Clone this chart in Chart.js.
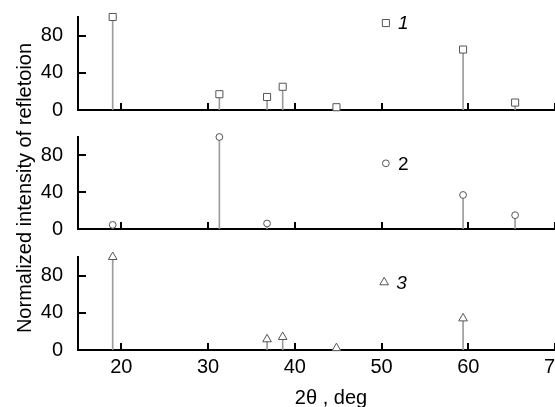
<!DOCTYPE html>
<html>
<head>
<meta charset="utf-8">
<script src="https://cdn.jsdelivr.net/npm/chart.js@4.4.1/dist/chart.umd.min.js"></script>
<style>
  html, body { margin: 0; padding: 0; background: #fff; }
  #wrap { position: relative; width: 555px; height: 407px; overflow: hidden; }
  #wrap canvas { position: absolute; left: 0; top: 0; }
</style>
</head>
<body>
<div id="wrap">
  <canvas id="p1" width="555" height="407"></canvas>
  <canvas id="p2" width="555" height="407"></canvas>
  <canvas id="p3" width="555" height="407"></canvas>
</div>
<script>
// оси
const xTicks = [20, 30, 40, 50, 60, 70];
const yTicks = [0, 40, 80];

// пики (2θ, интенсивность)
const peaks1X = [19.0, 31.3, 36.8, 38.6, 44.8, 59.4, 65.4];
const peaks1Y = [100, 17, 14, 25, 3, 65, 8];
const peaks2X = [19.0, 31.3, 36.8, 59.4, 65.4];
const peaks2Y = [4.5, 100, 6, 37, 15];
const peaks3X = [19.0, 36.8, 38.6, 44.8, 59.4];
const peaks3Y = [100, 11.5, 14, 2, 34];

// подписи кривых
const legendLabels = ['1', '2', '3'];
const legendX = [50.5, 50.5, 50.3];
const legendY = [93.5, 71.4, 72.8];

const yTitle = 'Normalized intensity of refletoion';
const xTitle = '2θ , deg';

const FONT = "'Liberation Sans', Arial, sans-serif";

// засечки внутрь и подписи
const inwardTicks = {
    id: 'inwardTicks',
    afterDraw(chart, args, o) {
        const ctx = chart.ctx;
        const area = chart.chartArea;
        const x = chart.scales.x, y = chart.scales.y;
        ctx.save();
        ctx.strokeStyle = '#000';
        ctx.lineWidth = 2;
        xTicks.forEach(v => {
            const px = Math.round(x.getPixelForValue(v));
            ctx.beginPath();
            ctx.moveTo(px, area.bottom + 1);
            ctx.lineTo(px, area.bottom - 7);
            ctx.stroke();
        });
        yTicks.filter(v => v > 0).forEach(v => {
            const py = Math.round(y.getPixelForValue(v));
            ctx.beginPath();
            ctx.moveTo(area.left - 1, py);
            ctx.lineTo(area.left + 8, py);
            ctx.stroke();
        });
        // номер кривой
        ctx.fillStyle = '#000';
        ctx.font = (o.italic ? 'italic ' : '') + '19px ' + FONT;
        ctx.textBaseline = 'middle';
        ctx.textAlign = 'left';
        ctx.fillText(legendLabels[o.idx], x.getPixelForValue(legendX[o.idx]) + 12, y.getPixelForValue(legendY[o.idx]) + 1);
        if (o.titles) {
            ctx.font = '20px ' + FONT;
            ctx.textAlign = 'center';
            ctx.fillText(xTitle, 331, 398);
            ctx.translate(25, 188);
            ctx.rotate(-Math.PI / 2);
            ctx.fillText(yTitle, 0, 0);
        }
        ctx.restore();
    }
};

function makePanel(id, idx, xs, ys, style, top, bottom, showX) {
    const xh = showX ? 407 - bottom : 0;
    const markers = xs.map((v, i) => ({x: v, y: ys[i]}));
    const markerStyle = {
        pointStyle: style,
        pointRadius: style === 'circle' ? 3.4 : 5,
        pointBackgroundColor: '#fff',
        pointBorderColor: '#555',
        pointBorderWidth: 1,
        clip: false
    };
    new Chart(document.getElementById(id), {
        type: 'bar',
        data: {
            datasets: [
                Object.assign({type: 'scatter', data: markers, order: 0}, markerStyle),
                Object.assign({type: 'scatter', data: [{x: legendX[idx], y: legendY[idx]}], order: 0}, markerStyle),
                {
                    type: 'bar',
                    data: markers,
                    backgroundColor: '#9c9c9c',
                    borderWidth: 0,
                    barThickness: 1,
                    order: 1
                }
            ]
        },
        options: {
            responsive: false,
            animation: false,
            events: [],
            layout: {
                autoPadding: false,
                padding: { top: top, bottom: 407 - bottom - xh, left: 0, right: 0 }
            },
            plugins: {
                legend: { display: false },
                tooltip: { enabled: false },
                inwardTicks: { idx: idx, italic: idx !== 1, titles: showX }
            },
            scales: {
                x: {
                    type: 'linear',
                    min: 15,
                    max: 70,
                    offset: false,
                    afterBuildTicks: s => { s.ticks = xTicks.map(v => ({value: v})); },
                    afterFit: s => { s.height = xh; s.paddingLeft = 0; s.paddingRight = 0; },
                    grid: { display: false },
                    border: { display: true, color: '#000', width: 2 },
                    ticks: {
                        display: showX,
                        padding: -3,
                        color: '#000',
                        maxRotation: 0,
                        autoSkip: false,
                        font: { family: FONT, size: 20 }
                    }
                },
                y: {
                    type: 'linear',
                    min: 0,
                    max: 100,
                    afterBuildTicks: s => { s.ticks = yTicks.map(v => ({value: v})); },
                    afterFit: s => { s.width = 78; s.paddingTop = 0; s.paddingBottom = 0; },
                    grid: { display: false },
                    border: { display: true, color: '#000', width: 2 },
                    ticks: {
                        padding: 7,
                        color: '#000',
                        font: { family: FONT, size: 20 }
                    }
                }
            }
        },
        plugins: [inwardTicks]
    });
}

makePanel('p1', 0, peaks1X, peaks1Y, 'rect', 17, 110, false);
makePanel('p2', 1, peaks2X, peaks2Y, 'circle', 137, 229, false);
makePanel('p3', 2, peaks3X, peaks3Y, 'triangle', 257, 350, true);
</script>
</body>
</html>
